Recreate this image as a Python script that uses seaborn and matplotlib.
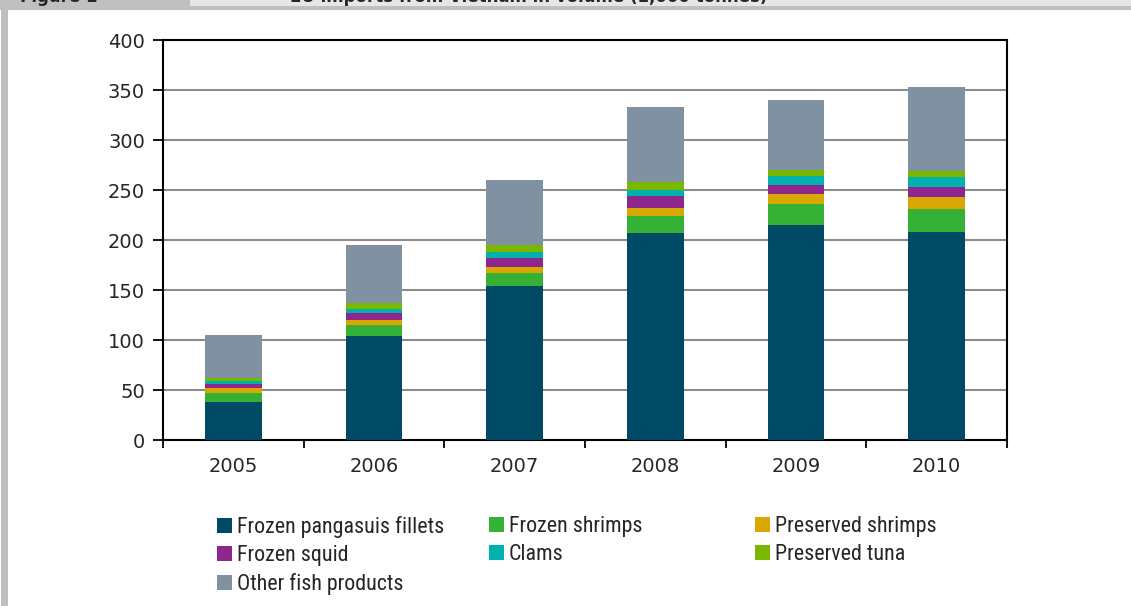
import numpy as np
import pandas as pd
import matplotlib
matplotlib.use("Agg")
import matplotlib.pyplot as plt
from matplotlib.patches import Rectangle, Patch
from matplotlib.ticker import FixedLocator
from matplotlib.font_manager import FontProperties
from matplotlib.textpath import TextPath
import seaborn as sns
from matplotlib import font_manager

years = ["2005", "2006", "2007", "2008", "2009", "2010"]
series_names = ["Frozen pangasuis fillets", "Frozen shrimps", "Preserved shrimps",
                "Frozen squid", "Clams", "Preserved tuna", "Other fish products"]
pangasius = [38, 103.7, 154.4, 207, 215, 207.7]
frozen_shrimps = [9.5, 11, 12.6, 17.5, 21.3, 23.6]
preserved_shrimps = [4.5, 5.7, 6, 8, 9.7, 11.4]
frozen_squid = [4.5, 6.6, 9.4, 12, 8.7, 10.6]
clams = [3, 4.4, 5.3, 6, 9, 9.4]
preserved_tuna = [2.5, 5.3, 7.7, 7.5, 6.3, 6]
other = [43, 58, 65, 75.5, 70, 84.3]
colors = ["#004a66", "#35b235", "#d9a800", "#8e268e", "#00b2ae", "#7ab800", "#8092a2"]
y_ticks = [0, 50, 100, 150, 200, 250, 300, 350, 400]

values = [pangasius, frozen_shrimps, preserved_shrimps, frozen_squid, clams, preserved_tuna, other]

sns.set_style("white")
plt.rcParams["font.family"] = ["DejaVu Sans"]

avail = {f.name for f in font_manager.fontManager.ttflist}
leg_prop = None
for cand in ["Liberation Sans Narrow", "Roboto Condensed", "Open Sans Condensed"]:
    if cand in avail:
        leg_prop = FontProperties(family=cand)
        break
if leg_prop is None:
    leg_prop = FontProperties(family="DejaVu Sans", stretch="condensed")

# choose legend size so the longest label spans ~205 px
w_test = TextPath((0, 0), series_names[0], size=10, prop=leg_prop).get_extents().width
leg_size_px = 10 * 205.0 / w_test
leg_prop.set_size(leg_size_px * 72 / 100)

fig = plt.figure(figsize=(11.31, 6.06), dpi=100)
W, H = 1131, 606

def px_rect(x0, y0, x1, y1, color):
    fig.patches.append(Rectangle((x0 / W, 1 - y1 / H), (x1 - x0) / W, (y1 - y0) / H,
                                 transform=fig.transFigure, color=color, zorder=0, lw=0))

# frame decoration
px_rect(0, 0, W, 7, "#e6e6e6")
px_rect(0, 0, 190, 7, "#c0c0c0")
px_rect(0, 6, W, 10, "#c0c0c0")
px_rect(1, 0, 8, H, "#c0c0c0")

fig.text(20 / W, 1 - 2 / H, "Figure 1", fontsize=12, fontweight="bold", va="baseline", ha="left")
fig.text(290 / W, 1 - 2 / H, "EU imports from Vietnam in volume (1,000 tonnes)", fontsize=12,
         fontweight="bold", va="baseline", ha="left")

ax = fig.add_axes([163 / W, 1 - 440 / H, (1007 - 163) / W, 400 / H])

df = pd.DataFrame({"year": years})
cum = np.cumsum(np.array(values), axis=0)
for i in range(len(values) - 1, -1, -1):
    df["v"] = cum[i]
    sns.barplot(data=df, x="year", y="v", color=colors[i], saturation=1, width=0.405,
                ax=ax, edgecolor="none", zorder=3)

ax.set_ylim(0, 400)
ax.set_xlim(-0.5, 5.5)
ax.set_xlabel("")
ax.set_ylabel("")
ax.set_yticks(y_ticks)
ax.yaxis.grid(True, color="#8c8c8c", lw=1.5, zorder=0)
ax.set_axisbelow(True)
for s in ax.spines.values():
    s.set_visible(True)
    s.set_color("black")
    s.set_linewidth(1.5)

ax.tick_params(axis="y", which="major", direction="out", length=7, width=1.3, color="black",
               labelsize=14, pad=6, left=True)
ax.tick_params(axis="x", which="major", length=0, labelsize=14, pad=12)
ax.xaxis.set_minor_locator(FixedLocator(np.arange(-0.5, 6.0, 1.0)))
ax.tick_params(axis="x", which="minor", direction="out", length=6, width=1.3, color="black",
               bottom=True)

# legend: three columns placed individually
handles = [Patch(facecolor=c, edgecolor="none") for c in colors]
cols = [[0, 3, 6], [1, 4], [2, 5]]
col_x = [217, 489, 755]
for xs, idx in zip(col_x, cols):
    fig.legend([handles[i] for i in idx], [series_names[i] for i in idx],
               loc="upper left", bbox_to_anchor=(xs / W, 1 - 516 / H),
               frameon=False, handlelength=0.7, handleheight=0.7, handletextpad=0.2,
               labelspacing=0.32, borderaxespad=0, borderpad=0, prop=leg_prop)

fig.savefig("out.png", dpi=100)
